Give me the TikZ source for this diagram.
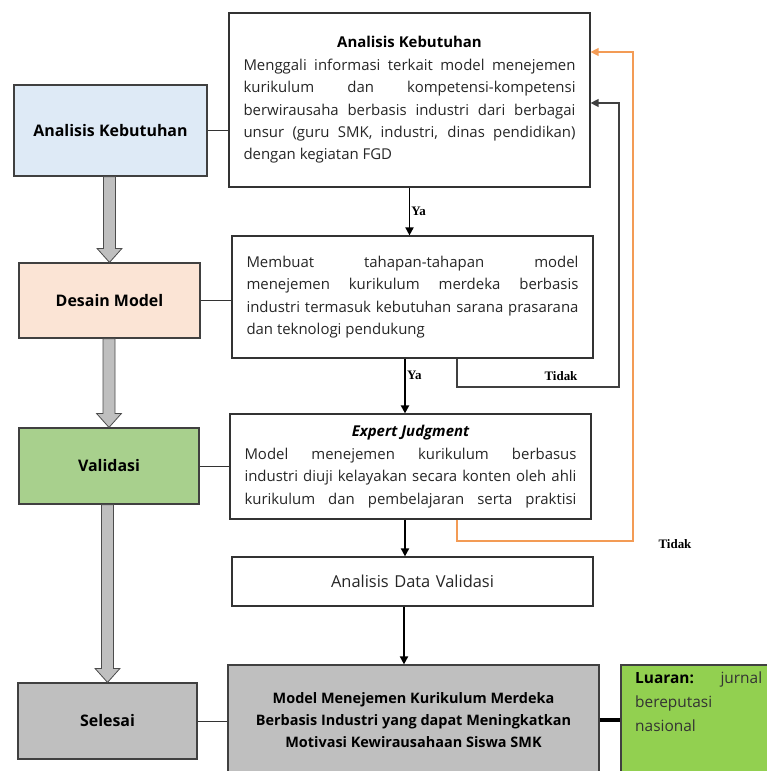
\documentclass[tikz,border=0pt]{standalone}
\usepackage{fontspec}
\setmainfont{Open Sans}
\newfontfamily\tmsfont{Liberation Serif}
\usetikzlibrary{calc,arrows.meta}
\definecolor{akblue}{HTML}{DEEAF6}
\definecolor{dmpeach}{HTML}{FBE4D5}
\definecolor{valgreen}{HTML}{A8D08D}
\definecolor{selgray}{HTML}{BFBFBF}
\definecolor{lugreen}{HTML}{92D050}
\definecolor{tdkorange}{HTML}{F39B55}
\hyphenpenalty=10000
\exhyphenpenalty=10000
\tolerance=9999

% big gray arrow between the stage boxes
\newcommand\grayarr[2]{%
  \draw[bigarrow] let \p1=(#2.north), \p2=(#1.south) in
    (\x1-6bp,\y2) -- (\x1+6bp,\y2) -- (\x1+6bp,\y1+14bp) -- (\x1+12.5bp,\y1+14bp)
    -- (\x1,\y1) -- (\x1-12.5bp,\y1+14bp) -- (\x1-6bp,\y1+14bp) -- cycle;}

\begin{document}
\begin{tikzpicture}
  [x=1bp,y=-1bp,
   stage/.style={draw=black!75,line width=1.2bp,inner sep=0pt,
     font=\bfseries\fontsize{16}{19}\selectfont},
   textbox/.style={draw=black!80,line width=1.2bp,fill=white,text=black!85,
     text width=332bp,align=justify,inner sep=0pt,
     font=\fontsize{15}{22.5}\selectfont},
   bigarrow/.style={fill=selgray,draw=black!70,line width=0.8bp},
   link/.style={draw=black!80,line width=0.9bp},
   yaarrow/.style={-{Triangle[width=8bp,length=8bp]},line width=1.8bp},
   loopline/.style={-{Triangle[width=8bp,length=8bp]},draw=black!75,line width=1.3bp},
   lbl/.style={font=\tmsfont\bfseries\fontsize{13}{14}\selectfont,inner sep=1bp}]
  \useasboundingbox (0,0) rectangle (767,771);

  % left column
  \node[stage,fill=akblue,minimum width=193bp,minimum height=91bp] (lak) at (110.5,130.5) {Analisis Kebutuhan};
  \node[stage,fill=dmpeach,minimum width=181bp,minimum height=75bp] (ldm) at (109.5,300.5) {Desain Model};
  \node[stage,fill=valgreen,minimum width=180bp,minimum height=76bp] (lval) at (109,466) {Validasi};
  \node[stage,fill=selgray,minimum width=179bp,minimum height=76bp] (lsel) at (107.5,721) {Selesai};

  \grayarr{lak}{ldm}
  \grayarr{ldm}{lval}
  \grayarr{lval}{lsel}

  % right column
  \node[textbox,minimum width=361bp,minimum height=174bp] (akbox) at (409.5,100)
    {\hspace*{\fill}\textcolor{black}{\bfseries Analisis Kebutuhan}\hspace*{\fill}\linebreak
     Menggali informasi terkait model menejemen\linebreak
     kurikulum dan kompetensi-kompetensi\linebreak
     berwirausaha berbasis industri dari berbagai\linebreak
     unsur (guru SMK, industri, dinas pendidikan)\linebreak
     dengan kegiatan FGD};
  \node[textbox,minimum width=361bp,minimum height=122bp] (dmbox) at (412.5,297)
    {Membuat tahapan-tahapan model\linebreak
     menejemen kurikulum merdeka berbasis\linebreak
     industri termasuk kebutuhan sarana prasarana\linebreak
     dan teknologi pendukung};
  \node[textbox,minimum width=361bp,minimum height=105bp] (ejbox) at (410.5,466.5)
    {\hspace*{\fill}\textcolor{black}{\bfseries\itshape Expert Judgment}\hspace*{\fill}\linebreak
     Model menejemen kurikulum berbasus\linebreak
     industri diuji kelayakan secara konten oleh ahli\linebreak
     kurikulum dan pembelajaran serta praktisi\parfillskip=0pt\par};
  \node[textbox,align=center,minimum width=361bp,minimum height=49bp,
    font=\fontsize{16.5}{20}\selectfont] (dtbox) at (412.5,581.5)
    {Analisis Data Validasi};
  \node[stage,fill=selgray,align=center,minimum width=371bp,minimum height=110bp,
    font=\bfseries\fontsize{14.5}{22.5}\selectfont] (mdbox) at (413.5,720)
    {Model Menejemen Kurikulum Merdeka\\
     Berbasis Industri yang dapat Meningkatkan\\
     Motivasi Kewirausahaan Siswa SMK};
  \node[stage,fill=lugreen,minimum width=151bp,minimum height=110bp] (lubox) at (696.5,720) {};
  \node[anchor=north west,inner sep=0pt,text width=127bp,align=left,text=black!80,
    font=\fontsize{15.5}{24}\selectfont] (lutext) at (635,672)
    {\textcolor{black}{\bfseries Luaran:}\hfill jurnal\\ bereputasi\\ nasional};

  % links between columns
  \draw[link] (lak.east) -- (lak.east -| akbox.west);
  \draw[link] (ldm.east) -- (ldm.east -| dmbox.west);
  \draw[link] (lval.east) -- (lval.east -| ejbox.west);
  \draw[link] (lsel.east) -- (lsel.east -| mdbox.west);
  \draw[line width=4bp] (mdbox.east) -- (lubox.west);

  % flow
  \draw[yaarrow] (akbox.south) -- (akbox.south |- dmbox.north)
    node[midway,right,lbl] (ya1) {Ya};
  \draw[yaarrow,line width=2.4bp] ([xshift=-7.5bp]dmbox.south) -- ([xshift=-7.5bp]dmbox.south |- ejbox.north)
    node[pos=0.3,right,lbl] (ya2) {Ya};
  \draw[yaarrow] ([xshift=-5.5bp]ejbox.south) -- ([xshift=-5.5bp]ejbox.south |- dtbox.north);
  \draw[yaarrow] ([xshift=-8.5bp]dtbox.south) -- ([xshift=-8.5bp]dtbox.south |- mdbox.north);

  % loops back
  \coordinate (tdk1) at (619,387);
  \coordinate (tdk2) at (633,541);
  \draw[loopline] ([xshift=44.5bp]dmbox.south) |- (tdk1) |- ([yshift=-3bp]akbox.east);
  \draw[loopline,draw=tdkorange,color=tdkorange] ([xshift=46.5bp]ejbox.south) |- (tdk2) |- ([yshift=48bp]akbox.east);
  \node[lbl] (tidak1) at (561,376) {Tidak};
  \node[lbl] (tidak2) at (675,544) {Tidak};
\end{tikzpicture}
\end{document}
